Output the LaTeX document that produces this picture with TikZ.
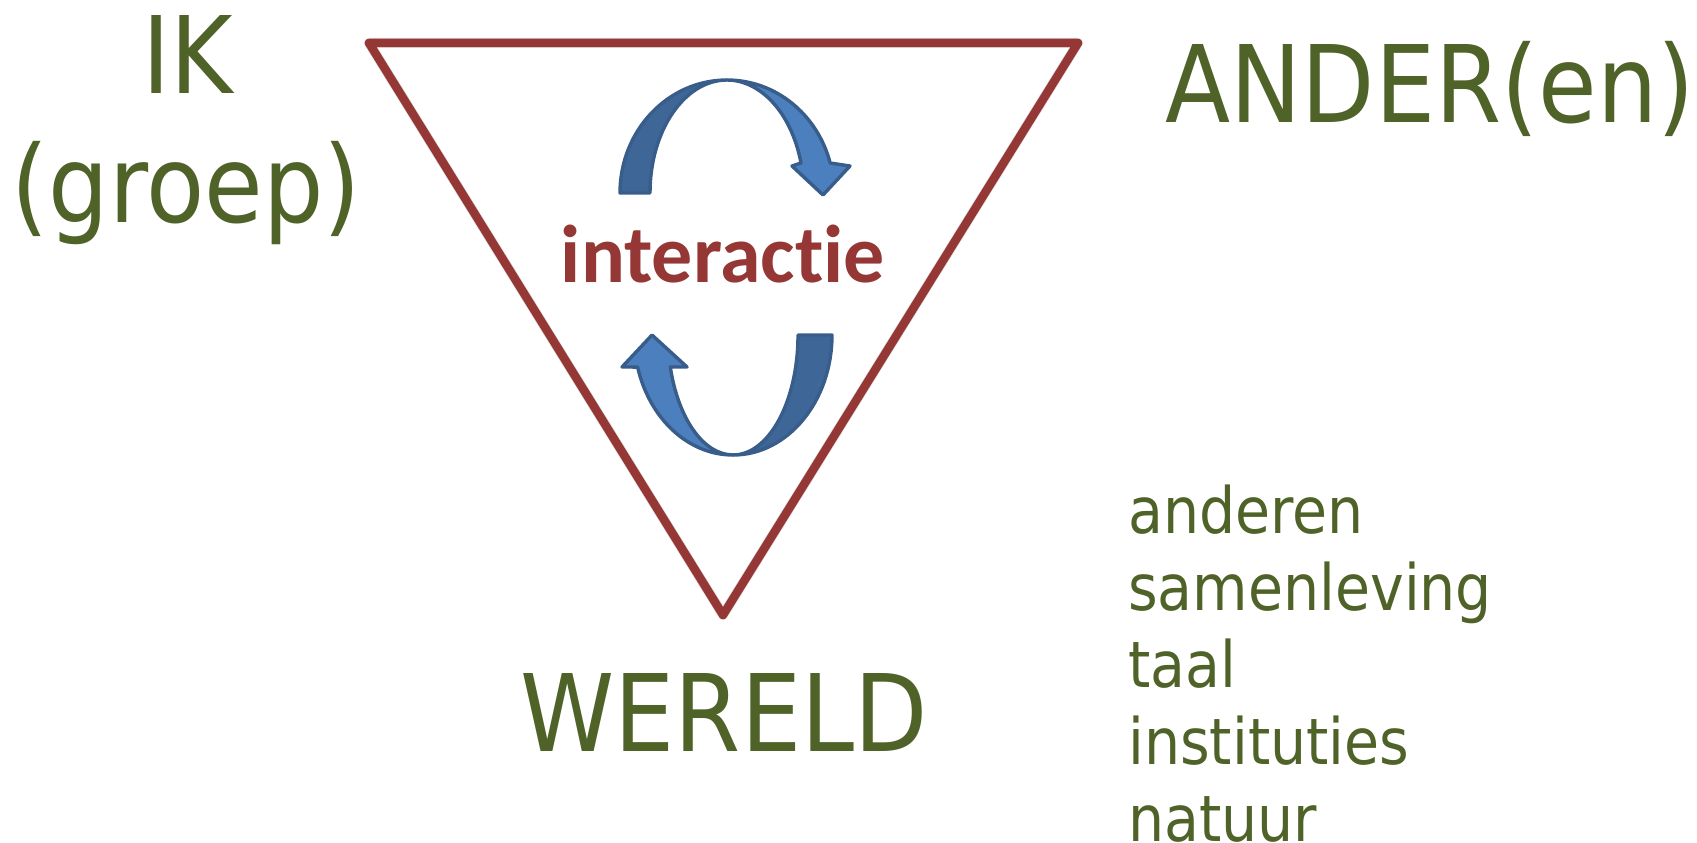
\documentclass[tikz,border=0pt]{standalone}
\usepackage{fontspec}
\setmainfont{DejaVu Sans}[FakeStretch=0.89]
\newfontfamily\calibrifont{Carlito}[Ligatures={NoCommon}]
\definecolor{txtgreen}{HTML}{4F6228}
\definecolor{trired}{HTML}{953735}
\definecolor{arrlight}{HTML}{4C7FBE}
\definecolor{arrdark}{HTML}{3E6797}
\definecolor{arrline}{HTML}{385D8A}
\tikzset{
  bigtxt/.style={inner sep=0pt, anchor=base, text=txtgreen, font=\fontsize{107}{107}\selectfont},
  listtxt/.style={inner sep=0pt, anchor=base west, text=txtgreen, font=\fontsize{64}{64}\selectfont},
  centertxt/.style={inner sep=0pt, anchor=base, text=trired, font=\calibrifont\bfseries\fontsize{82}{82}\selectfont},
  triline/.style={draw=trired, line width=8.5pt, line join=round},
  trishadow/.style={draw=black, line width=10pt, line join=round, opacity=0.12},
  face/.style={draw=arrline, line width=3.4pt, line join=round}
}
\begin{document}
\begin{tikzpicture}[x=1pt, y=-1pt]
\useasboundingbox (0,0) rectangle (1697,843);
% triangle
\coordinate (tl) at (369,43);
\coordinate (tr) at (1078,43);
\coordinate (bt) at (723,615);
\draw[trishadow, shift={(3,5)}] (tl) -- (tr) -- (bt) -- cycle;
\draw[triline] (tl) -- (tr) -- (bt) -- cycle;
% top arrow (centre 727,193)
\fill[arrdark, face] (620,193) arc[start angle=180, end angle=270, x radius=107, y radius=113]
  arc[start angle=270, end angle=180, x radius=77, y radius=113] -- cycle;
\fill[arrlight, face] (727,80) arc[start angle=270, end angle=344.6, x radius=107, y radius=113]
  -- (850,166) -- (823,195) -- (792,166) -- (801,163)
  arc[start angle=344.6, end angle=270, x radius=77, y radius=113] -- cycle;
% bottom arrow (centre 733,335)
\fill[arrdark, face] (832,335) arc[start angle=0, end angle=90, x radius=99, y radius=120]
  arc[start angle=90, end angle=0, x radius=65, y radius=120] -- cycle;
\fill[arrlight, face] (733,455) arc[start angle=90, end angle=164.5, x radius=99, y radius=120]
  -- (622,367) -- (652,335) -- (687,367) -- (670.3,367)
  arc[start angle=164.5, end angle=90, x radius=65, y radius=120] -- cycle;
% texts
\node[bigtxt] (ik) at (188,93) {IK};
\node[bigtxt] (groep) at (186,222) {(groep)};
\node[bigtxt] (ander) at (1430,122) {ANDER(en)};
\node[bigtxt] (wereld) at (724,751) {WERELD};
\node[centertxt] (inter) at (723,282) {interactie};
\node[listtxt] (l1) at (1128,533) {anderen};
\node[listtxt] (l2) at (1128,610) {samenleving};
\node[listtxt] (l3) at (1128,687) {taal};
\node[listtxt] (l4) at (1128,764) {instituties};
\node[listtxt] (l5) at (1128,841) {natuur};
\end{tikzpicture}
\end{document}
